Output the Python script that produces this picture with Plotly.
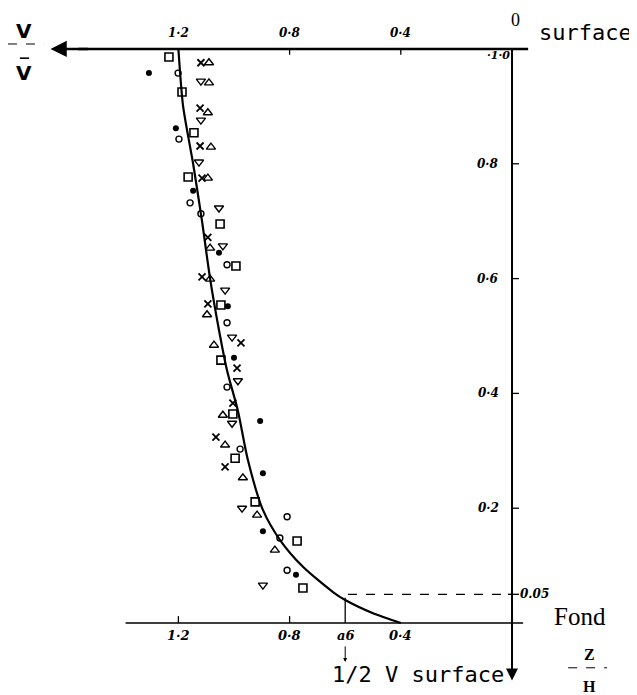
import plotly.graph_objects as go

# ---- data (x = V / V_mean, y = Z / H) ----
curve_x = [1.20, 1.183, 1.147, 1.115, 1.086, 1.05, 1.025, 0.986, 0.95, 0.896, 0.835, 0.752, 0.644, 0.60, 0.50, 0.40]
curve_y = [1.00, 0.90, 0.80, 0.70, 0.60, 0.50, 0.44, 0.37, 0.284, 0.197, 0.145, 0.098, 0.054, 0.040, 0.017, 0.0]

sq_x = [1.234, 1.187, 1.144, 1.165, 1.050, 0.993, 1.047, 1.047, 1.004, 0.996, 0.924, 0.773, 0.752]
sq_y = [0.986, 0.925, 0.854, 0.777, 0.695, 0.622, 0.554, 0.458, 0.364, 0.287, 0.211, 0.143, 0.061]

oc_x = [1.201, 1.198, 1.158, 1.119, 1.025, 1.025, 1.025, 0.978, 0.809, 0.835, 0.809]
oc_y = [0.958, 0.843, 0.732, 0.713, 0.624, 0.523, 0.411, 0.303, 0.185, 0.148, 0.092]

fd_x = [1.306, 1.209, 1.147, 1.054, 1.022, 1.000, 0.906, 0.896, 0.896, 0.777]
fd_y = [0.958, 0.862, 0.753, 0.645, 0.552, 0.462, 0.352, 0.261, 0.160, 0.084]

tu_x = [1.090, 1.090, 1.094, 1.083, 1.094, 1.086, 1.086, 1.097, 1.072, 1.040, 1.032, 0.968, 0.917, 0.853]
tu_y = [0.976, 0.941, 0.889, 0.829, 0.775, 0.653, 0.599, 0.537, 0.484, 0.362, 0.310, 0.253, 0.188, 0.127]

td_x = [1.119, 1.119, 1.126, 1.054, 1.040, 1.032, 1.007, 0.986, 1.007, 0.971, 0.896]
td_y = [0.944, 0.876, 0.803, 0.723, 0.657, 0.580, 0.498, 0.422, 0.348, 0.200, 0.066]

xm_x = [1.119, 1.122, 1.122, 1.115, 1.094, 1.115, 1.094, 0.975, 0.989, 1.004, 1.065, 1.032]
xm_y = [0.976, 0.897, 0.831, 0.775, 0.672, 0.603, 0.556, 0.488, 0.444, 0.383, 0.324, 0.272]

top_ticks = [1.2, 0.8, 0.4]
top_labels = ["1·2", "0·8", "0·4"]
bot_ticks = [1.2, 0.8, 0.6, 0.4]
bot_labels = ["1·2", "0·8", "a6", "0·4"]
right_ticks = [0.8, 0.6, 0.4, 0.2]
right_labels = ["0·8", "0·6", "0·4", "0·2"]
half_v = 0.6
bottom_layer = 0.05

# ---- figure ----
fig = go.Figure()
fig.add_trace(go.Scatter(x=curve_x, y=curve_y, mode="lines",
                         line=dict(color="black", width=2.2, shape="spline", smoothing=0.7)))

def pts(x, y, symbol, size, lw=1.4):
    fig.add_trace(go.Scatter(x=x, y=y, mode="markers",
                             marker=dict(symbol=symbol, size=size, color="black",
                                         line=dict(color="black", width=lw))))

pts(sq_x, sq_y, "square-open", 8, 1.6)
pts(oc_x, oc_y, "circle-open", 6, 1.4)
pts(fd_x, fd_y, "circle", 6, 0)
pts(tu_x, tu_y, "triangle-up-open", 8, 1.4)
pts(td_x, td_y, "triangle-down-open", 8, 1.4)
pts(xm_x, xm_y, "x-thin", 7, 1.8)

shapes = []
def line(x0, y0, x1, y1, w=1.5, dash="solid"):
    shapes.append(dict(type="line", xref="x", yref="y", x0=x0, y0=y0, x1=x1, y1=y1,
                       line=dict(color="black", width=w, dash=dash)))

# axes
line(-0.058, 1.0, 1.56, 1.0, 2.5)          # top axis
line(0, 1.0, 0, -0.09, 2)                  # right vertical axis
line(1.39, 0, -0.04, 0, 1.5)               # bottom axis
line(half_v - 0.01, bottom_layer, 0, bottom_layer, 1.2, "dash")
line(half_v, 0, half_v, bottom_layer - 0.006, 1.3)
for t in top_ticks[1:]:
    line(t, 1.0, t, 0.99, 1.3)
for t in [1.2, 0.8]:
    line(t, 0, t, 0.012, 1.3)
for t in right_ticks:
    line(0, t, -0.025, t, 1.3)
line(0.015, bottom_layer, -0.025, bottom_layer, 1.3)
# label decorations
line(1.813, 1.0087, 1.683, 1.0087, 1.0, "dash")   # V/V dashes
line(1.770, 0.984, 1.737, 0.984, 1.6)             # overbar
line(-0.202, -0.078, -0.342, -0.078, 1.0, "dash") # Z/H dashes

ann = []
def txt(x, y, s, size=13, family="DejaVu Serif", weight="bold", style="italic", xanchor="center"):
    ann.append(dict(x=x, y=y, xref="x", yref="y", text=s, showarrow=False,
                    xanchor=xanchor, yanchor="middle",
                    font=dict(family=family, size=size, color="black", weight=weight, style=style)))

for t, s in zip(top_ticks, top_labels):
    txt(t, 1.028, s, 12)
for t, s in zip(bot_ticks, bot_labels):
    txt(t, -0.022, s, 13)
for t, s in zip(right_ticks, right_labels):
    txt(0.085, t, s, 12)
txt(0.05, 0.988, "·1·0", 11)
txt(-0.02, bottom_layer, "0.05", 12, xanchor="left")
txt(-0.011, 1.05, "0", 18, "Liberation Serif", "normal", "normal")
txt(-0.266, 1.028, "surface", 22, "DejaVu Sans Mono", "normal", "normal")
txt(-0.245, 0.012, "Fond", 25, "Liberation Serif", "normal", "normal")
txt(-0.278, -0.055, "Z", 16, "Liberation Serif", "bold", "normal")
txt(-0.28, -0.111, "H", 16, "Liberation Serif", "bold", "normal")
txt(1.755, 1.031, "V", 20, "DejaVu Sans", "bold", "normal")
txt(1.755, 0.958, "V", 20, "DejaVu Sans", "bold", "normal")
txt(0.338, -0.089, "1/2 V surface", 22, "DejaVu Sans Mono", "normal", "normal")

# arrows
ann.append(dict(x=1.66, y=1.0, ax=1.52, ay=1.0, xref="x", yref="y", axref="x", ayref="y",
                text="", showarrow=True, arrowhead=2, arrowsize=1.3, arrowwidth=2.5, arrowcolor="black"))
ann.append(dict(x=0, y=-0.1, ax=0, ay=-0.06, xref="x", yref="y", axref="x", ayref="y",
                text="", showarrow=True, arrowhead=2, arrowsize=1.2, arrowwidth=2, arrowcolor="black"))
ann.append(dict(x=half_v, y=-0.068, ax=half_v, ay=-0.038, xref="x", yref="y", axref="x", ayref="y",
                text="", showarrow=True, arrowhead=2, arrowsize=0.8, arrowwidth=1, arrowcolor="black"))

# page body has an 8px margin: figure spans page pixels 8..637 / 8..695
fig.update_layout(
    width=629, height=687, margin=dict(l=0, r=0, t=0, b=0),
    paper_bgcolor="white", plot_bgcolor="white", showlegend=False,
    xaxis=dict(range=[1.8129, -0.4496], visible=False, fixedrange=True),
    yaxis=dict(range=[-0.1254, 1.0714], visible=False, fixedrange=True),
    shapes=shapes, annotations=ann,
)
fig.write_html("out.html")
